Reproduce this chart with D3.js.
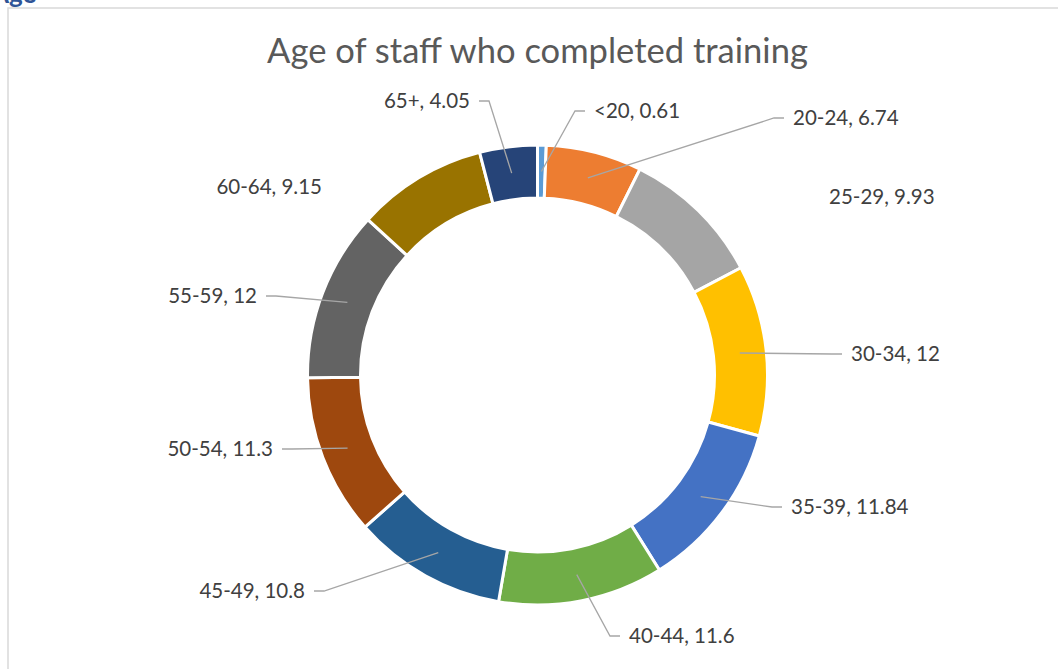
<!DOCTYPE html>
<html lang="en">
<head>
    <meta charset="UTF-8">
    <title>Age of staff who completed training</title>
    <script src="https://cdnjs.cloudflare.com/ajax/libs/d3/7.8.5/d3.min.js"></script>
    <style>
        body {
            margin: 0;
            background: #fff;
            font-family: Lato, "Open Sans", Arial, sans-serif;
            overflow: hidden;
        }
        #chart { width: 1058px; height: 669px; }
    </style>
</head>
<body>
    <div id="chart"></div>

    <script>
    // Chart data
    const ageGroups = ["<20", "20-24", "25-29", "30-34", "35-39", "40-44", "45-49", "50-54", "55-59", "60-64", "65+"];
    const percentages = [0.61, 6.74, 9.93, 12, 11.84, 11.6, 10.8, 11.3, 12, 9.15, 4.05];
    const sliceColors = ["#5B9BD5", "#ED7D31", "#A5A5A5", "#FFC000", "#4472C4", "#70AD47",
                         "#255E91", "#9E480E", "#636363", "#997300", "#264478"];

    // Label placement (Excel moved these by hand): text anchor x, middle y, side, leader line
    const labelLayout = [
        {x: 594, y: 111, side: "right", leader: true},
        {x: 793, y: 118, side: "right", leader: true},
        {x: 829, y: 197, side: "right", leader: false},
        {x: 851, y: 354, side: "right", leader: true},
        {x: 791, y: 507, side: "right", leader: true},
        {x: 629, y: 636, side: "right", leader: true},
        {x: 305, y: 591, side: "left", leader: true},
        {x: 273, y: 449, side: "left", leader: true},
        {x: 257, y: 296, side: "left", leader: true},
        {x: 322, y: 187, side: "left", leader: false},
        {x: 470, y: 101, side: "left", leader: true}
    ];

    const width = 1058, height = 669;
    const cx = 537.5, cy = 375;
    const outerR = 230, innerR = 177;

    const data = ageGroups.map((g, i) => ({group: g, value: percentages[i], color: sliceColors[i], layout: labelLayout[i]}));

    const svg = d3.select("#chart")
        .append("svg")
        .attr("width", width)
        .attr("height", height);

    // cut-off heading above the chart frame
    svg.append("text")
        .attr("x", -9)
        .attr("y", 3)
        .attr("font-size", 26)
        .attr("font-weight", "bold")
        .attr("fill", "#2F5597")
        .text("Age");

    // chart frame
    svg.append("rect")
        .attr("x", 8)
        .attr("y", 8)
        .attr("width", width + 20)
        .attr("height", height + 20)
        .attr("fill", "none")
        .attr("stroke", "#D9D9D9")
        .attr("stroke-width", 1.5);

    // title, sized to the reference width
    const title = svg.append("text")
        .attr("x", cx)
        .attr("y", 63)
        .attr("text-anchor", "middle")
        .attr("fill", "#595959")
        .attr("font-size", 32)
        .text("Age of staff who completed training");
    const tw = title.node().getComputedTextLength();
    title.attr("font-size", 32 * 541 / tw);

    const pie = d3.pie()
        .value(d => d.value)
        .sort(null);

    const arc = d3.arc()
        .innerRadius(innerR)
        .outerRadius(outerR);

    const g = svg.append("g")
        .attr("transform", `translate(${cx},${cy})`);

    const arcs = pie(data);

    g.selectAll("path.slice")
        .data(arcs)
        .enter().append("path")
        .attr("class", "slice")
        .attr("d", arc)
        .attr("fill", d => d.data.color)
        .attr("stroke", "#fff")
        .attr("stroke-width", 3)
        .attr("stroke-linejoin", "round");

    // leader lines: slice centroid -> elbow -> short horizontal to the label
    svg.selectAll("path.leader")
        .data(arcs.filter(d => d.data.layout.leader))
        .enter().append("path")
        .attr("class", "leader")
        .attr("fill", "none")
        .attr("stroke", "#A6A6A6")
        .attr("stroke-width", 1.3)
        .attr("d", d => {
            const c = arc.centroid(d);
            const L = d.data.layout;
            const dir = L.side === "right" ? 1 : -1;
            const p0 = [cx + c[0], cy + c[1]];
            const end = [L.x - dir * 9, L.y];
            const elbow = [L.x - dir * 19, L.y];
            return d3.line()([p0, elbow, end]);
        });

    svg.selectAll("text.label")
        .data(arcs)
        .enter().append("text")
        .attr("class", "label")
        .attr("x", d => d.data.layout.x)
        .attr("y", d => d.data.layout.y)
        .attr("dy", "0.35em")
        .attr("text-anchor", d => d.data.layout.side === "right" ? "start" : "end")
        .attr("font-size", 20.5)
        .attr("fill", "#404040")
        .text(d => `${d.data.group}, ${d.data.value}`);
    </script>
</body>
</html>
